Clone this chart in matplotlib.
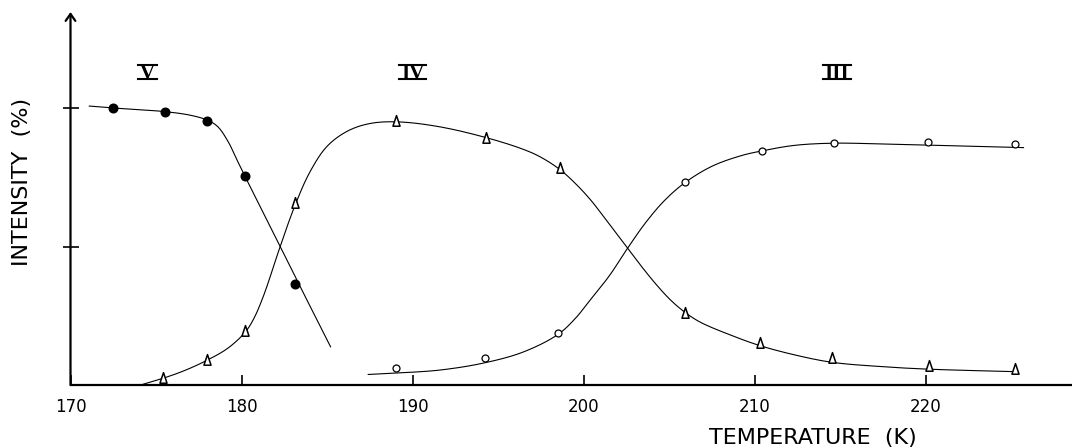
import numpy as np
import matplotlib
matplotlib.use("Agg")
import matplotlib.pyplot as plt
from matplotlib.path import Path
from matplotlib.lines import Line2D

# === Data ===
# phase V, filled circles
t_v = [172.5, 175.5, 178.0, 180.2, 183.1]
i_v = [100.0, 98.6, 95.3, 75.3, 36.6]
# phase IV, triangles
t_iv = [175.4, 178.0, 180.2, 183.1, 189.0, 194.3, 198.6, 205.9, 210.3, 214.5, 220.2, 225.2]
i_iv = [2.6, 9.2, 19.4, 65.7, 95.3, 89.1, 78.2, 26.1, 15.2, 9.6, 6.8, 5.6]
# phase III, open circles
t_iii = [189.0, 194.2, 198.5, 205.9, 210.4, 214.6, 220.1, 225.2]
i_iii = [6.0, 9.6, 18.8, 73.4, 84.3, 87.4, 87.6, 87.1]

# hand-drawn guide curves, traced point by point
curve_v_t = [171.1, 172.5, 174.0, 175.5, 177.0, 178.0, 178.6, 179.2, 179.75, 180.2,
             181.0, 182.2, 183.2, 184.2, 185.2]
curve_v_i = [100.7, 100.0, 99.4, 98.7, 97.4, 95.6, 93.3, 88.0, 81.0, 75.3,
             65.5, 50.7, 38.3, 26.0, 13.8]
curve_iv_t = [174.1, 175.4, 176.7, 178.0, 179.2, 180.2, 180.7, 181.3, 182.2, 183.1,
              184.0, 185.0, 186.2, 187.5, 189.1, 191.5, 194.3, 196.5, 197.5, 198.6,
              199.5, 200.4, 201.5, 202.55, 203.5, 204.3, 205.1, 205.9, 206.8, 208.8,
              210.3, 212.3, 214.5, 217.5, 220.2, 225.3]
curve_iv_i = [0.0, 2.4, 5.3, 9.0, 13.3, 19.0, 23.8, 32.5, 49.0, 64.5,
              77.0, 86.2, 91.7, 94.4, 95.0, 93.3, 89.3, 85.0, 82.2, 77.8,
              72.8, 66.8, 58.0, 49.5, 41.8, 35.8, 30.5, 26.3, 22.7, 17.5,
              14.2, 10.9, 8.2, 6.6, 5.7, 4.8]
curve_iii_t = [187.4, 189.0, 191.6, 194.2, 196.5, 198.5, 199.5, 200.35, 201.5, 202.55,
               203.6, 204.7, 205.9, 207.5, 209.2, 210.4, 212.3, 214.6, 217.5, 220.1,
               225.7]
curve_iii_i = [3.8, 4.3, 5.4, 8.0, 12.0, 18.3, 24.0, 30.5, 39.5, 49.3,
               58.5, 66.5, 73.0, 79.0, 82.8, 84.5, 86.5, 87.3, 87.0, 86.6,
               85.7]

phase_labels = ["V", "IV", "III"]
label_t = [174.5, 190.0, 214.8]
label_i = [110.5, 110.5, 110.5]

x_ticks = [170, 180, 190, 200, 210, 220]
y_ticks = [50, 100]

W, H = 1072, 448
PX_X, PX_Y = 17.11, 2.77   # pixels per kelvin / per percent


def smooth(xs, ys, n=16):
    # centripetal Catmull-Rom through the traced points (pixel space)
    p = np.column_stack([np.asarray(xs) * PX_X, np.asarray(ys) * PX_Y])
    p = np.vstack([2 * p[0] - p[1], p, 2 * p[-1] - p[-2]])
    out = []
    for k in range(1, len(p) - 2):
        p0, p1, p2, p3 = p[k - 1], p[k], p[k + 1], p[k + 2]
        t0 = 0.0
        t1 = t0 + np.linalg.norm(p1 - p0) ** 0.5
        t2 = t1 + np.linalg.norm(p2 - p1) ** 0.5
        t3 = t2 + np.linalg.norm(p3 - p2) ** 0.5
        t = np.linspace(t1, t2, n)[:, None]
        a1 = (t1 - t) / (t1 - t0) * p0 + (t - t0) / (t1 - t0) * p1
        a2 = (t2 - t) / (t2 - t1) * p1 + (t - t1) / (t2 - t1) * p2
        a3 = (t3 - t) / (t3 - t2) * p2 + (t - t2) / (t3 - t2) * p3
        b1 = (t2 - t) / (t2 - t0) * a1 + (t - t0) / (t2 - t0) * a2
        b2 = (t3 - t) / (t3 - t1) * a2 + (t - t1) / (t3 - t1) * a3
        c = (t2 - t) / (t2 - t1) * b1 + (t - t1) / (t2 - t1) * b2
        out.append(c if k == 1 else c[1:])
    c = np.vstack(out)
    return c[:, 0] / PX_X, c[:, 1] / PX_Y


# === Figure ===
fig = plt.figure(figsize=(W / 100, H / 100), dpi=100)
ax = fig.add_axes([70.5 / W, 63 / H, 1 - 70.5 / W, 373 / H])

line_kw = dict(color="black", lw=0.8)
for ct, ci in [(curve_v_t, curve_v_i), (curve_iv_t, curve_iv_i), (curve_iii_t, curve_iii_i)]:
    sx, sy = smooth(ct, ci)
    ax.plot(sx, sy, **line_kw)

tri = Path([(-0.6, -0.8), (0.6, -0.8), (0.0, 1.0), (-0.6, -0.8)], closed=True)
ax.plot(t_v, i_v, "o", ms=6.2, color="black", zorder=3)
ax.plot(t_iv, i_iv, ls="none", marker=tri, ms=8.5, mfc="white", mec="black", mew=1.1, zorder=3)
ax.plot(t_iii, i_iii, "o", ms=5, mfc="white", mec="black", mew=0.9, zorder=3)

fs_roman = 15
roman = []
for s, tx, ty in zip(phase_labels, label_t, label_i):
    roman.append(ax.text(tx, ty, s, ha="center", va="baseline", fontsize=fs_roman,
                         family="Liberation Serif", weight="bold"))

ax.set_xlim(170, 170 + (W - 70.5) / PX_X)
ax.set_ylim(0, 373 / PX_Y)

for side in ["top", "right", "left"]:
    ax.spines[side].set_visible(False)
ax.spines["bottom"].set_linewidth(1.6)

ax.annotate("", xy=(0, 1), xytext=(0, 0), xycoords="axes fraction",
            arrowprops=dict(arrowstyle="->,head_length=0.5,head_width=0.35",
                            lw=1.6, color="black", shrinkA=0, shrinkB=0),
            annotation_clip=False)

ax.set_xticks(x_ticks)
ax.set_xticklabels([str(t) for t in x_ticks])
ax.tick_params(axis="x", direction="in", length=7, width=1.2, pad=9, labelsize=12)
ax.set_yticks(y_ticks)
ax.set_yticklabels([])
ax.tick_params(axis="y", direction="inout", length=11.5, width=1.2)

fig.text(22 / W, (H - 181.5) / H, "INTENSITY  (%)", rotation=90, ha="center", va="center",
         fontsize=16, family="DejaVu Sans")
fig.text(917 / W, (H - 428) / H, "TEMPERATURE  (K)", ha="right", va="top",
         fontsize=16, family="DejaVu Sans")

# bars above and below the roman numerals, as in the original lettering
fig.canvas.draw()
renderer = fig.canvas.get_renderer()
cap = 0.66 * fs_roman * fig.dpi / 72
for txt in roman:
    bb = txt.get_window_extent(renderer)
    base = ax.transData.transform((0, txt.get_position()[1]))[1]
    x0, x1 = (bb.x0 - 2) / W, (bb.x1 + 2) / W
    for yy in (base, base + cap):
        fig.add_artist(Line2D([x0, x1], [yy / H, yy / H], color="black", lw=1.5,
                              transform=fig.transFigure))

fig.savefig("out.png", dpi=100)
